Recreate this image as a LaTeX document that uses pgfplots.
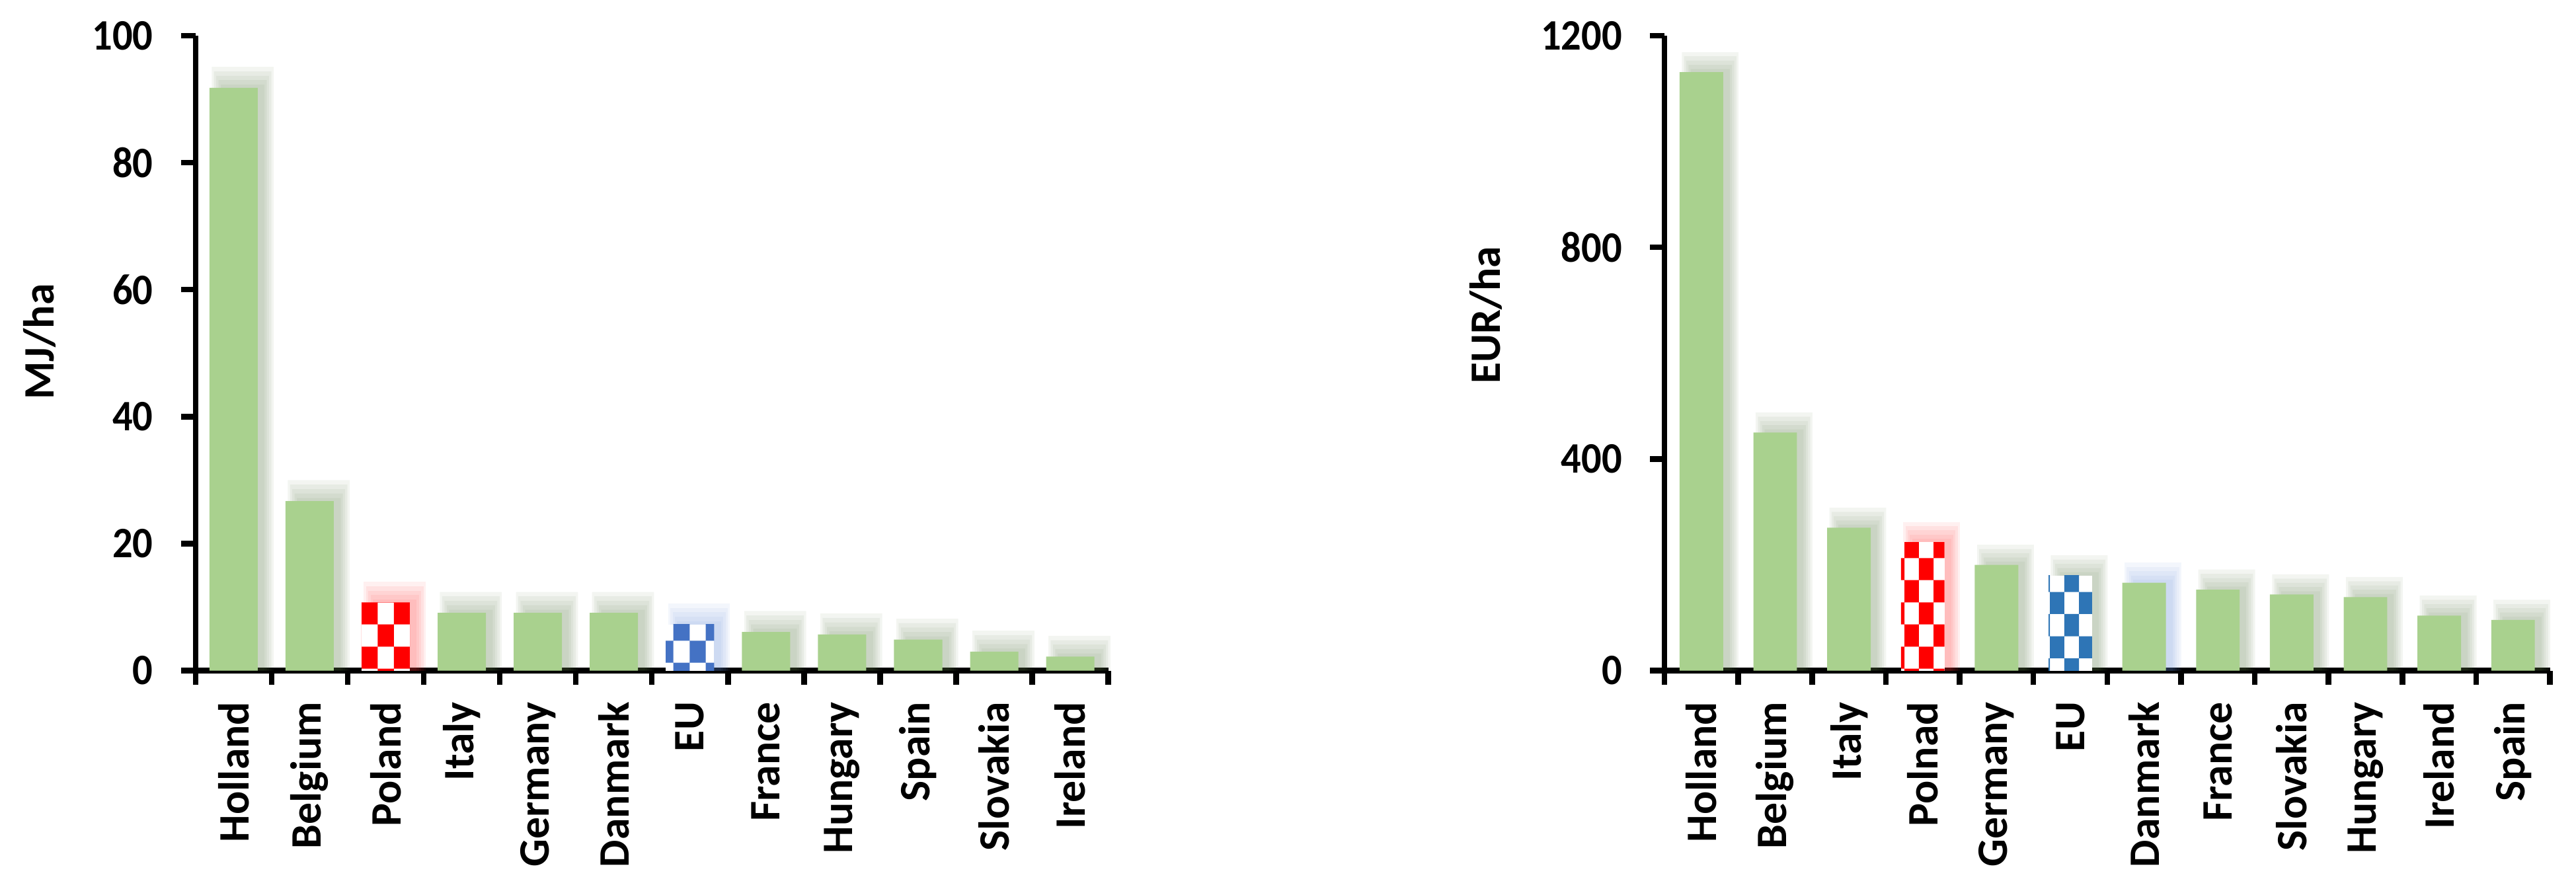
\documentclass[border=0pt]{standalone}
\usepackage{pgfplots}
\pgfplotsset{compat=1.18}
\usepackage{pgfplotstable}
\usepackage{fontspec}
\setmainfont{Carlito}
\usetikzlibrary{patterns}
\definecolor{barg}{HTML}{A9D18E}
\definecolor{shg}{RGB}{90,120,70}
\definecolor{shr}{RGB}{255,50,50}
\definecolor{shb}{RGB}{100,140,215}
\definecolor{pl}{HTML}{FF0000}
\definecolor{euA}{HTML}{4472C4}
\definecolor{euB}{HTML}{2E75B6}

% checkerboard with square size #2 x #3 and phase #4,#5 (all in pt)
\newcommand\mkchecks[5]{%
\pgfdeclarepatternformonly{#1}{\pgfpointorigin}{\pgfpoint{2*#2pt}{2*#3pt}}{\pgfpoint{2*#2pt}{2*#3pt}}{%
  \pgfpathrectangle{\pgfpoint{#4pt-2*#2pt}{#5pt-2*#3pt}}{\pgfpoint{#2pt}{#3pt}}%
  \pgfpathrectangle{\pgfpoint{#4pt-2*#2pt}{#5pt}}{\pgfpoint{#2pt}{#3pt}}%
  \pgfpathrectangle{\pgfpoint{#4pt-#2pt}{#5pt-#3pt}}{\pgfpoint{#2pt}{#3pt}}%
  \pgfpathrectangle{\pgfpoint{#4pt-#2pt}{#5pt+#3pt}}{\pgfpoint{#2pt}{#3pt}}%
  \pgfpathrectangle{\pgfpoint{#4pt}{#5pt-2*#3pt}}{\pgfpoint{#2pt}{#3pt}}%
  \pgfpathrectangle{\pgfpoint{#4pt}{#5pt}}{\pgfpoint{#2pt}{#3pt}}%
  \pgfpathrectangle{\pgfpoint{#4pt+#2pt}{#5pt-#3pt}}{\pgfpoint{#2pt}{#3pt}}%
  \pgfpathrectangle{\pgfpoint{#4pt+#2pt}{#5pt+#3pt}}{\pgfpoint{#2pt}{#3pt}}%
  \pgfusepath{fill}}}
\mkchecks{chkLP}{5.2}{7.1}{2.1}{0.5}
\mkchecks{chkLE}{5.2}{7.1}{9.1}{9.5}
\mkchecks{chkRP}{4.7}{7.1}{2.8}{7.6}
\mkchecks{chkRE}{4.7}{7.1}{7.3}{11.0}

% ---- left chart (MJ/ha)
\pgfplotstableread{
x v
0 91.8
1 26.7
3 9.1
4 9.1
5 9.1
7 6.1
8 5.7
9 4.9
10 3.0
11 2.2
}\Lgreen
\pgfplotstableread{
x v
2 10.7
}\Lred
\pgfplotstableread{
x v
6 7.3
}\Lblue
% ---- right chart (EUR/ha)
\pgfplotstableread{
x v
0 1131
1 450
2 270
4 200
6 166
7 153
8 144
9 139
10 104
11 96
}\Rgreen
\pgfplotstableread{
x v
3 243
}\Rred
\pgfplotstableread{
x v
5 180
}\Rblue
% shadow colour groups on the right chart
\pgfplotstableread{
x v
0 1131
1 450
2 270
4 200
5 180
7 153
8 144
9 139
10 104
11 96
}\RshG
\pgfplotstableread{
x v
6 166
}\RshB

\newcommand\lbl{\bfseries\fontsize{14}{16}\selectfont}
\pgfplotsset{
  base/.style={
    scale only axis, ybar,
    xmin=-0.5, xmax=11.5, ymin=0,
    axis x line=bottom, axis y line=left,
    axis line style={line width=1.8pt, black, -},
    tick style={line width=1.8pt, black},
    tick align=outside, major tick length=4.6pt,
    xtick={-0.5,0.5,...,11.5}, xticklabels={},
    extra x ticks={0,1,2,3,4,5,6,7,8,9,10,11},
    extra x tick style={major tick length=0pt, tick style={draw=none},
      xticklabel style={yshift=-9.9pt, rotate=90, anchor=east, inner sep=0pt, font=\lbl}},
    yticklabel={\scalebox{0.92}[1]{\pgfmathprintnumber{\tick}}},
    yticklabel style={font=\lbl, inner sep=0pt, xshift=-8.9pt},
    /pgf/number format/assume math mode=true,
    /pgf/number format/1000 sep={},
    ylabel style={font=\lbl},
    clip=false,
  },
  sh/.style n args={2}{draw=none, fill=#1, fill opacity=0.075, bar shift=0.12,
    bar width=#2, forget plot},
  gbar/.style={draw=none, fill=barg, bar shift=0},
}

\begin{document}
\begin{tikzpicture}
\useasboundingbox (0,0) rectangle (830pt,287pt);
% ================= LEFT
\begin{axis}[base, at={(63pt,70.9pt)}, anchor=south west, bar width=0.635,
  width=294.1pt, height=204.6pt, ymax=100, ytick={0,20,...,100},
  extra x tick labels={Holland,Belgium,Poland,Italy,Germany,Danmark,EU,France,Hungary,Spain,Slovakia,Ireland},
  ylabel={MJ/ha}, ylabel style={at={(axis description cs:-0.1707,0.518)}, anchor=center}]
% shadows
\addplot[sh={shg}{0.575}] table[x=x, y expr=\thisrow{v}+0.5] {\Lgreen};
\addplot[sh={shg}{0.635}] table[x=x, y expr=\thisrow{v}+1.2] {\Lgreen};
\addplot[sh={shg}{0.695}] table[x=x, y expr=\thisrow{v}+1.9] {\Lgreen};
\addplot[sh={shg}{0.755}] table[x=x, y expr=\thisrow{v}+2.6] {\Lgreen};
\addplot[sh={shg}{0.815}] table[x=x, y expr=\thisrow{v}+3.3] {\Lgreen};
\addplot[sh={shr}{0.575}] table[x=x, y expr=\thisrow{v}+0.5] {\Lred};
\addplot[sh={shr}{0.635}] table[x=x, y expr=\thisrow{v}+1.2] {\Lred};
\addplot[sh={shr}{0.695}] table[x=x, y expr=\thisrow{v}+1.9] {\Lred};
\addplot[sh={shr}{0.755}] table[x=x, y expr=\thisrow{v}+2.6] {\Lred};
\addplot[sh={shr}{0.815}] table[x=x, y expr=\thisrow{v}+3.3] {\Lred};
\addplot[sh={shb}{0.575}] table[x=x, y expr=\thisrow{v}+0.5] {\Lblue};
\addplot[sh={shb}{0.635}] table[x=x, y expr=\thisrow{v}+1.2] {\Lblue};
\addplot[sh={shb}{0.695}] table[x=x, y expr=\thisrow{v}+1.9] {\Lblue};
\addplot[sh={shb}{0.755}] table[x=x, y expr=\thisrow{v}+2.6] {\Lblue};
\addplot[sh={shb}{0.815}] table[x=x, y expr=\thisrow{v}+3.3] {\Lblue};
% bars
\addplot[gbar] table[x=x, y=v] {\Lgreen};
\addplot[draw=none, fill=white, bar shift=0, postaction={pattern=chkLP, pattern color=pl}] table[x=x, y=v] {\Lred};
\addplot[draw=none, fill=white, bar shift=0, postaction={pattern=chkLE, pattern color=euA}] table[x=x, y=v] {\Lblue};
\end{axis}
% ================= RIGHT
\begin{axis}[base, at={(536.3pt,70.9pt)}, anchor=south west, bar width=0.59,
  width=285.3pt, height=204.6pt, ymax=1200, ytick={0,400,800,1200},
  extra x tick labels={Holland,Belgium,Italy,Polnad,Germany,EU,Danmark,France,Slovakia,Hungary,Ireland,Spain},
  ylabel={EUR/ha}, ylabel style={at={(axis description cs:-0.2015,0.56)}, anchor=center}]
\addplot[sh={shg}{0.53}] table[x=x, y expr=\thisrow{v}+6] {\RshG};
\addplot[sh={shg}{0.59}] table[x=x, y expr=\thisrow{v}+14] {\RshG};
\addplot[sh={shg}{0.65}] table[x=x, y expr=\thisrow{v}+22] {\RshG};
\addplot[sh={shg}{0.71}] table[x=x, y expr=\thisrow{v}+30] {\RshG};
\addplot[sh={shg}{0.77}] table[x=x, y expr=\thisrow{v}+38] {\RshG};
\addplot[sh={shr}{0.53}] table[x=x, y expr=\thisrow{v}+6] {\Rred};
\addplot[sh={shr}{0.59}] table[x=x, y expr=\thisrow{v}+14] {\Rred};
\addplot[sh={shr}{0.65}] table[x=x, y expr=\thisrow{v}+22] {\Rred};
\addplot[sh={shr}{0.71}] table[x=x, y expr=\thisrow{v}+30] {\Rred};
\addplot[sh={shr}{0.77}] table[x=x, y expr=\thisrow{v}+38] {\Rred};
\addplot[sh={shb}{0.53}] table[x=x, y expr=\thisrow{v}+6] {\RshB};
\addplot[sh={shb}{0.59}] table[x=x, y expr=\thisrow{v}+14] {\RshB};
\addplot[sh={shb}{0.65}] table[x=x, y expr=\thisrow{v}+22] {\RshB};
\addplot[sh={shb}{0.71}] table[x=x, y expr=\thisrow{v}+30] {\RshB};
\addplot[sh={shb}{0.77}] table[x=x, y expr=\thisrow{v}+38] {\RshB};
\addplot[gbar] table[x=x, y=v] {\Rgreen};
\addplot[draw=none, fill=white, bar shift=0, postaction={pattern=chkRP, pattern color=pl}] table[x=x, y=v] {\Rred};
\addplot[draw=none, fill=white, bar shift=0, postaction={pattern=chkRE, pattern color=euB}] table[x=x, y=v] {\Rblue};
\end{axis}
\end{tikzpicture}
\end{document}
